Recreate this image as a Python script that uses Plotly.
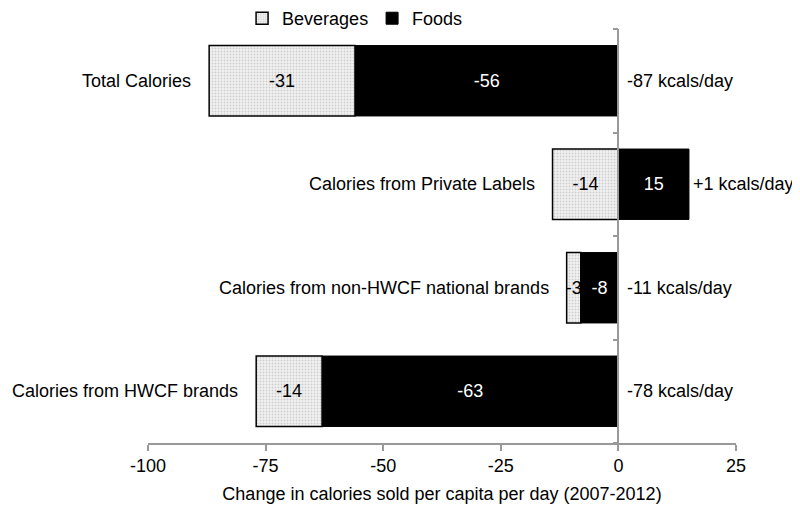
import plotly.graph_objects as go

categories = ["Total Calories", "Calories from Private Labels",
              "Calories from non-HWCF national brands", "Calories from HWCF brands"]
foods = [-56, 15, -8, -63]
beverages = [-31, -14, -3, -14]
net_labels = ["-87 kcals/day", "+1 kcals/day", "-11 kcals/day", "-78 kcals/day"]
tick_vals = [-100, -75, -50, -25, 0, 25]
tick_text = ["-100", "-75", "-50", "-25", "0", "25"]

FONT = "Liberation Sans, Arial, sans-serif"
FS = 18

fig = go.Figure()
fig.add_trace(go.Bar(
    y=categories, x=foods, orientation="h", name="Foods",
    marker=dict(color="black", line=dict(color="black", width=1)),
    text=[str(v) for v in foods], textposition="inside", insidetextanchor="middle",
    textfont=dict(color="white", size=FS, family=FONT),
    width=0.68, legendrank=2,
))
fig.add_trace(go.Bar(
    y=categories, x=beverages, orientation="h", name="Beverages",
    marker=dict(color="#f2f2f2", line=dict(color="black", width=1.5),
                pattern=dict(shape=".", fgcolor="#a8a8a8", bgcolor="#f2f2f2",
                             size=3, solidity=0.3)),
    text=[str(v) for v in beverages], textposition="inside", insidetextanchor="middle",
    textfont=dict(color="black", size=FS, family=FONT),
    width=0.68, legendrank=1,
))

annotations = []
for cat, f, b, lab in zip(categories, foods, beverages, net_labels):
    neg = sum(v for v in (f, b) if v < 0)
    pos = sum(v for v in (f, b) if v > 0)
    annotations.append(dict(x=neg, y=cat, xref="x", yref="y", text=cat,
                            showarrow=False, xanchor="right", xshift=-16,
                            font=dict(size=FS, color="black", family=FONT)))
    annotations.append(dict(x=max(0, pos), y=cat, xref="x", yref="y", text=lab,
                            showarrow=False, xanchor="left",
                            xshift=2 if pos > 0 else 7,
                            font=dict(size=FS, color="black", family=FONT)))

# page body has an 8px margin, so the figure is sized 792x500
fig.update_layout(
    width=792, height=500,
    barmode="relative",
    plot_bgcolor="white", paper_bgcolor="white",
    margin=dict(l=140, r=64, t=21, b=65, autoexpand=False),
    font=dict(family=FONT, size=FS, color="black"),
    uniformtext=dict(minsize=FS, mode="show"),
    showlegend=True,
    legend=dict(orientation="h", x=0.16, xanchor="left", y=1.07, yanchor="top",
                font=dict(size=FS, family=FONT), bgcolor="rgba(0,0,0,0)",
                traceorder="normal", entrywidth=85, itemwidth=30),
    annotations=annotations,
    xaxis=dict(range=[-100, 25], tickvals=tick_vals, ticktext=tick_text,
               showline=True, linecolor="#999999", linewidth=1.5,
               ticks="outside", ticklen=6, tickcolor="#999999", tickwidth=1.5,
               ticklabelstandoff=0,
               showgrid=False, zeroline=False, automargin=False,
               tickfont=dict(size=FS, family=FONT),
               title=dict(text="Change in calories sold per capita per day (2007-2012)",
                          font=dict(size=FS, family=FONT), standoff=12)),
    yaxis=dict(type="category", categoryorder="array",
               categoryarray=categories[::-1], range=[-0.5, 3.5],
               anchor="free", position=0.8, automargin=False,
               showline=True, linecolor="#999999", linewidth=1.5,
               ticks="outside", ticklen=5, tickcolor="#999999", tickwidth=1.5,
               tickson="boundaries", showticklabels=False,
               showgrid=False, zeroline=False),
)

fig.write_html("out.html")
